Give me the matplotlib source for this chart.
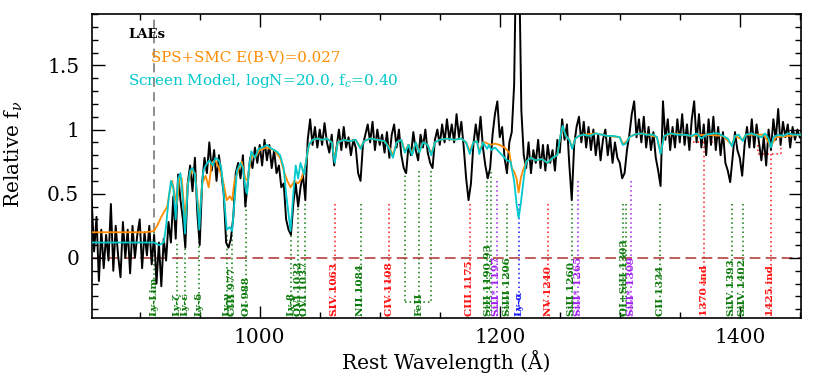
import matplotlib
matplotlib.use("Agg")
import matplotlib.pyplot as plt
import numpy as np
from matplotlib.ticker import MultipleLocator

# stacked LAE spectrum, 2 A bins starting at 860 A
flux = [
    0.45, 0.05, 0.32, -0.18, 0.22, -0.08, 0.18, -0.02, 0.42, -0.10,
    0.25, 0.02, -0.15, 0.28, 0.00, 0.22, -0.12, 0.25, 0.00, 0.18,
    0.30, -0.08, 0.20, 0.02, 0.25, -0.05, 0.18, -0.20, 0.12, -0.22,
    0.15, -0.02, 0.28, 0.12, 0.48, 0.15, 0.65, 0.45, 0.30, 0.08,
    0.58, 0.72, 0.52, 0.78, 0.35, 0.10, 0.58, 0.78, 0.66, 0.90,
    0.68, 0.84, 0.60, 0.80, 0.66, 0.50, 0.12, 0.08, 0.15, 0.32,
    0.66, 0.74, 0.62, 0.80, 0.40, 0.58, 0.78, 0.70, 0.86, 0.74,
    0.88, 0.72, 0.92, 0.76, 0.88, 0.70, 0.84, 0.66, 0.72, 0.55,
    0.58, 0.30, 0.22, 0.18, 0.42, 0.58, 0.40, 0.55, 0.65, 0.45,
    0.92, 1.08, 0.88, 1.02, 0.86, 1.00, 0.88, 1.05, 0.90, 0.82,
    0.96, 0.72, 0.86, 1.00, 0.84, 1.02, 0.86, 0.94, 0.80, 0.92,
    0.86, 0.66, 0.60, 0.88, 0.96, 1.04, 0.90, 1.06, 0.84, 1.00,
    0.88, 0.96, 0.82, 0.98, 0.78, 0.96, 1.04, 0.86, 1.00, 0.80,
    0.70, 0.66, 0.88, 0.80, 0.98, 0.84, 0.76, 0.96, 0.86, 1.00,
    0.82, 0.74, 0.70, 0.92, 1.00, 0.88, 1.04, 0.90, 1.08, 0.92,
    1.04, 0.90, 1.12, 0.94, 1.06, 0.86, 0.62, 0.45, 0.58, 0.88,
    1.04, 0.90, 1.10, 0.86, 0.72, 0.62, 0.70, 0.96, 1.12, 1.22,
    0.94, 1.02, 0.78, 0.66, 0.90, 0.98, 1.35, 2.60, 2.40, 1.15,
    0.80, 0.70, 0.90, 0.66, 0.84, 0.74, 0.92, 0.70, 0.88, 0.68,
    0.88, 0.74, 0.84, 0.68, 0.92, 0.82, 1.08, 0.92, 1.04, 0.72,
    0.45, 0.88, 1.02, 1.10, 0.90, 1.06, 0.86, 1.02, 0.84, 1.00,
    0.80, 0.96, 0.76, 0.92, 1.00, 0.80, 0.94, 0.74, 0.90, 0.78,
    0.74, 0.62, 0.66, 0.84, 0.96, 1.12, 1.22, 0.94, 1.08, 0.90,
    1.10, 0.86, 1.02, 0.84, 0.98, 0.78, 0.68, 0.56, 1.22, 0.92,
    1.08, 0.84, 1.02, 0.86, 1.08, 0.90, 1.12, 0.88, 1.04, 0.84,
    1.08, 1.22, 0.90, 1.12, 0.86, 1.04, 0.80, 1.08, 0.88, 1.10,
    0.84, 1.02, 0.80, 0.98, 0.74, 0.68, 0.59, 0.78, 0.98, 0.84,
    0.78, 0.64, 0.88, 1.02, 0.86, 1.08, 0.86, 1.04, 0.90, 0.76,
    0.94, 0.72, 1.00, 0.84, 1.08, 0.92, 1.16, 0.88, 1.06, 0.94,
    1.04, 0.86, 1.02, 0.92, 1.00, 0.94,
]
wave = 860 + 2 * np.arange(len(flux))

# screen model, logN=20.0, fc=0.40
screen_wave = [
    860, 905, 912, 916, 920, 922, 924, 926, 928, 930, 932, 934, 936, 937.8, 940,
    942, 944, 946, 948, 949.7, 951, 953, 955, 958, 961, 963, 966, 968, 970, 972.5,
    975, 977, 979, 981, 984, 986, 988, 989.5, 991, 993, 996, 999, 1002, 1006, 1010,
    1014, 1017, 1020, 1022, 1025.7, 1028, 1030, 1032, 1034, 1037, 1039, 1041, 1044,
    1048, 1052, 1056, 1060, 1062.5, 1065, 1070, 1075, 1080, 1084, 1087, 1092, 1098,
    1104, 1108, 1111, 1114, 1118, 1121, 1124, 1127, 1130, 1133, 1136, 1140, 1143,
    1146, 1150, 1156, 1162, 1168, 1172, 1175, 1178, 1181, 1183, 1186, 1189.5, 1191,
    1193, 1196, 1198, 1202, 1206, 1209, 1212, 1214, 1215.7, 1217.5, 1220, 1222, 1226,
    1230, 1235, 1240, 1244, 1248, 1250.5, 1252.5, 1255, 1258, 1260.4, 1263, 1266,
    1270, 1275, 1280, 1285, 1290, 1295, 1300, 1302.5, 1305, 1308, 1312, 1318, 1322,
    1328, 1331, 1334, 1337, 1342, 1348, 1354, 1360, 1364, 1368, 1372, 1378, 1382,
    1386, 1390, 1393.5, 1396, 1399, 1402.5, 1405, 1410, 1415, 1418, 1421, 1424, 1426,
    1428, 1432, 1436, 1440, 1445, 1451,
]
screen_flux = [
    0.12, 0.12, 0.12, 0.10, 0.12, 0.25, 0.45, 0.60, 0.55, 0.30, 0.62, 0.66, 0.45, 0.19, 0.55,
    0.68, 0.70, 0.65, 0.45, 0.22, 0.45, 0.68, 0.72, 0.76, 0.72, 0.78, 0.76, 0.70, 0.50, 0.22,
    0.24, 0.21, 0.45, 0.68, 0.74, 0.70, 0.55, 0.50, 0.70, 0.83, 0.78, 0.85, 0.86, 0.88, 0.85,
    0.83, 0.80, 0.70, 0.50, 0.21, 0.50, 0.72, 0.62, 0.74, 0.65, 0.78, 0.88, 0.92,
    0.93, 0.92, 0.93, 0.90, 0.74, 0.90, 0.92, 0.91, 0.92, 0.85, 0.91, 0.93, 0.92,
    0.91, 0.85, 0.78, 0.90, 0.92, 0.82, 0.88, 0.80, 0.90, 0.82, 0.90, 0.88, 0.80,
    0.90, 0.92, 0.93, 0.92, 0.93, 0.90, 0.81, 0.90, 0.91, 0.81, 0.90, 0.85, 0.88,
    0.84, 0.86, 0.84, 0.80, 0.76, 0.75, 0.60, 0.42, 0.31, 0.42, 0.62, 0.75, 0.78,
    0.76, 0.77, 0.74, 0.78, 0.80, 0.95, 1.03, 0.95, 0.92, 0.85, 0.93, 0.95,
    0.96, 0.95, 0.97, 0.96, 0.95, 0.95, 0.94, 0.88, 0.89, 0.94, 0.96, 0.97, 0.96,
    0.96, 0.94, 0.81, 0.95, 0.97, 0.96, 0.96, 0.95, 0.97, 0.93, 0.96, 0.97, 0.97,
    0.95, 0.93, 0.87, 0.95, 0.96, 0.91, 0.96, 0.97, 0.95, 0.94, 0.97, 0.93, 0.86,
    0.94, 0.96, 0.95, 0.97, 0.96, 0.96,
]

# SPS + SMC dust, E(B-V)=0.027
sps_wave = [
    860, 905, 912, 915, 918, 921, 923, 925, 927, 929, 931, 933, 935, 937.8, 940,
    943, 946, 949.7, 952, 955, 957.5, 960, 963, 966, 969, 972.5, 975, 977, 979,
    982, 985, 988, 990, 993, 996, 1000, 1006, 1012, 1017, 1020, 1023, 1025.7, 1029,
    1032, 1035, 1038, 1041, 1044, 1048, 1052, 1056, 1060, 1062.5, 1065, 1070, 1075,
    1080, 1084, 1087, 1092, 1098, 1104, 1108, 1111, 1114, 1118, 1121, 1124, 1127,
    1130, 1133, 1136, 1140, 1143, 1146, 1150, 1156, 1162, 1168, 1172, 1175, 1178,
    1181, 1183, 1186, 1188, 1192, 1196, 1200, 1204, 1208, 1210, 1212, 1214, 1215.7,
    1217.5, 1219, 1221, 1222, 1226, 1230, 1235, 1240, 1244, 1248, 1250.5, 1252.5,
    1255, 1258, 1260.4, 1263, 1266, 1270, 1280, 1290, 1300, 1302.5, 1305, 1308,
    1312, 1320, 1331, 1334, 1337, 1345, 1360, 1372, 1386, 1393.5, 1396, 1402.5,
    1405, 1420, 1426, 1430, 1451,
]
sps_flux = [
    0.20, 0.20, 0.21, 0.26, 0.32, 0.37, 0.40, 0.52, 0.60, 0.50, 0.42, 0.62, 0.62, 0.30, 0.58,
    0.68, 0.66, 0.30, 0.58, 0.64, 0.55, 0.74, 0.76, 0.70, 0.62, 0.45, 0.48, 0.45, 0.60,
    0.68, 0.75, 0.62, 0.60, 0.80, 0.78, 0.84, 0.86, 0.84, 0.78, 0.68, 0.60, 0.55, 0.60,
    0.58, 0.62, 0.72, 0.88, 0.92, 0.93, 0.92, 0.93, 0.90, 0.76, 0.90, 0.92, 0.91,
    0.92, 0.86, 0.91, 0.93, 0.92, 0.91, 0.86, 0.80, 0.90, 0.92, 0.83, 0.88, 0.81,
    0.90, 0.83, 0.90, 0.88, 0.81, 0.90, 0.92, 0.93, 0.92, 0.93, 0.90, 0.83, 0.90,
    0.91, 0.83, 0.90, 0.90, 0.88, 0.89, 0.88, 0.86, 0.82, 0.70, 0.67, 0.62, 0.51,
    0.62, 0.67, 0.72, 0.75, 0.78, 0.76, 0.77, 0.74, 0.78, 0.80, 0.95, 1.02,
    0.95, 0.92, 0.86, 0.93, 0.95, 0.96, 0.97, 0.95, 0.94, 0.89, 0.90, 0.94,
    0.96, 0.97, 0.94, 0.82, 0.95, 0.97, 0.95, 0.96, 0.95, 0.88, 0.95, 0.92,
    0.96, 0.96, 0.87, 0.94, 0.96,
]

# absorption / emission line markers
line_names = [
    "Ly-Lim", "Ly-ζ", "Ly-ε", "Ly-δ", "Ly-γ", "CIII 977", "OI 988", "Ly-β",
    "OVI 1032", "OVI 1037", "SIV 1063", "NII 1084", "CIV 1108", "CIII 1175",
    "SiII 1190,93", "SiII* 1197", "SiIII 1206", "Ly-α", "NV 1240", "SiII 1260",
    "SiII* 1265", "OI+SiII 1303", "SiII* 1309", "CII 1334", "1370 ind",
    "SiIV 1393", "SiIV 1402", "1425 ind",
]
line_waves = [
    (912.0,), (930.7,), (937.8,), (949.7,), (972.5,), (977.0,), (988.8,), (1025.7,),
    (1031.9,), (1037.6,), (1062.7,), (1084.0,), (1108.0,), (1175.0,),
    (1189.6, 1192.4), (1197.4,), (1206.2,), (1215.7,), (1240.3,), (1260.2,),
    (1265.3,), (1302.9, 1305.1), (1309.4,), (1333.8,), (1370.6,),
    (1393.3,), (1402.5,), (1425.6,),
]
line_kind = [
    "ism", "ism", "ism", "ism", "ism", "ism", "ism", "ism",
    "ism", "ism", "star", "ism", "star", "star",
    "ism", "fine", "ism", "lya", "star", "ism",
    "fine", "ism", "fine", "ism", "star",
    "ism", "ism", "star",
]
line_top = [
    0.20, 0.11, 0.11, 0.16, 0.18, 0.18, 0.41, 0.21,
    0.42, 0.42, 0.42, 0.42, 0.42, 0.42,
    0.67, 0.60, 0.42, 0.42, 0.42, 0.42,
    0.60, 0.42, 0.60, 0.42, 0.90,
    0.42, 0.42, 0.81,
]
feii_waves = [1121.0, 1133.0, 1143.0]
feii_top = 0.68
feii_base = -0.34
ind_span = [(1361.0, 1378.0), (1415.0, 1434.0)]
ind_level = [0.90, 0.81]
ind_arm = [0.90, 0.88]

kind_color = {"ism": "#0b7a0b", "star": "#ff1414", "fine": "#a020f0", "lya": "#1414ff"}

plt.rcParams["font.family"] = ["DejaVu Serif"]
plt.rcParams["mathtext.fontset"] = "dejavuserif"

fig = plt.figure(figsize=(8.18, 3.78), dpi=100)
ax = fig.add_axes([0.1121, 0.158, 0.8671, 0.805])

ybot = -0.45
dot = (0, (1, 2))

# line markers and labels
for name, waves, kind, top in zip(line_names, line_waves, line_kind, line_top):
    col = kind_color[kind]
    for w in waves:
        ax.plot([w, w], [top, ybot], ls=dot, lw=1.1, color=col, zorder=1)
    ax.text(np.mean(waves), ybot, name, rotation=90, ha="center", va="bottom",
            fontsize=7.5, fontweight="bold", color=col, zorder=2)

for w in feii_waves:
    ax.plot([w, w], [feii_top, feii_base], ls=dot, lw=1.1, color=kind_color["ism"], zorder=1)
ax.plot([feii_waves[0], feii_waves[-1]], [feii_base, feii_base], ls=dot, lw=1.1,
        color=kind_color["ism"], zorder=1)
ax.text(feii_waves[1], ybot, "FeII", rotation=90, ha="center", va="bottom",
        fontsize=7.5, fontweight="bold", color=kind_color["ism"], zorder=2)

for (w0, w1), lev, arm in zip(ind_span, ind_level, ind_arm):
    ax.plot([w0, w0, w1, w1], [arm, lev, lev, arm], ls=dot, lw=1.1,
            color=kind_color["star"], zorder=1)

# Lyman limit and zero level
ax.plot([912, 912], [line_top[0], 1.9], ls=(0, (6, 3.5)), lw=1.1, color="#6e6e6e", zorder=1)
ax.axhline(0, ls=(0, (7, 3.5)), lw=1.1, color="#b03030", zorder=1)

ax.plot(wave, flux, color="black", lw=1.4, zorder=3)
ax.plot(sps_wave, sps_flux, color="#ff8c00", lw=1.3, zorder=4)
ax.plot(screen_wave, screen_flux, color="#00c8cc", lw=1.3, zorder=5)

ax.text(0.051, 0.931, "LAEs", transform=ax.transAxes, fontsize=9.5,
        fontweight="bold", va="center", ha="left")
ax.text(0.083, 0.855, "SPS+SMC E(B-V)=0.027", transform=ax.transAxes,
        fontsize=10.8, color="#ff8c00", va="center", ha="left")
ax.text(0.051, 0.780, "Screen Model, logN=20.0, f$_c$=0.40", transform=ax.transAxes,
        fontsize=11, color="#00c8cc", va="center", ha="left")

ax.set_xlim(860, 1451)
ax.set_ylim(-0.47, 1.9)
ax.xaxis.set_major_locator(MultipleLocator(200))
ax.xaxis.set_minor_locator(MultipleLocator(50))
ax.yaxis.set_major_locator(MultipleLocator(0.5))
ax.yaxis.set_minor_locator(MultipleLocator(0.1))
ax.set_yticks([0, 0.5, 1, 1.5])
ax.set_yticklabels(["0", "0.5", "1", "1.5"])
ax.tick_params(which="both", direction="in", top=True, right=True, width=1.0)
ax.tick_params(which="major", length=9, labelsize=14.5)
ax.tick_params(axis="x", which="major", pad=7)
ax.tick_params(axis="y", which="major", pad=9)
ax.tick_params(which="minor", length=4.5)
for sp in ax.spines.values():
    sp.set_linewidth(1.2)

ax.set_xlabel("Rest Wavelength (Å)", fontsize=14.5)
ax.set_ylabel(r"Relative f$_\nu$", fontsize=14.5)
ax.xaxis.set_label_coords(0.5, -0.105)
ax.yaxis.set_label_coords(-0.094, 0.54)

fig.savefig("out.png", dpi=100)
